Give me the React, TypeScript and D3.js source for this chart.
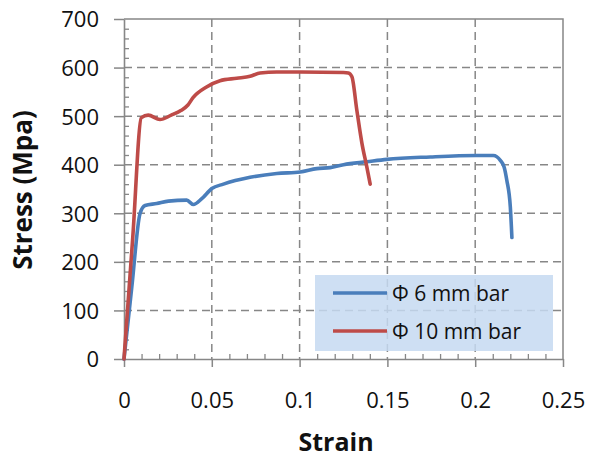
import React, { useEffect, useRef } from 'react';
import * as d3 from 'd3';

// strain / stress
const BAR6_STRAIN = [0, 0.0045, 0.0091, 0.012, 0.0186, 0.0253, 0.0357, 0.0395, 0.0443, 0.05, 0.0566, 0.0718, 0.087, 0.1003, 0.1098, 0.1174, 0.125, 0.1383, 0.1497, 0.1744, 0.2006, 0.2103, 0.2143, 0.2165, 0.218, 0.22, 0.2209];
const BAR6_STRESS = [0, 150, 299, 316, 320, 325, 327, 318, 330, 351, 360, 374, 382, 385, 392, 394, 400, 406, 411, 416, 419, 419, 409, 395, 368, 313, 250];

const BAR10_STRAIN = [0, 0.005, 0.0099, 0.0138, 0.0205, 0.0269, 0.0326, 0.0364, 0.0393, 0.047, 0.0547, 0.0642, 0.0718, 0.0775, 0.087, 0.1003, 0.125, 0.1278, 0.1298, 0.1326, 0.1355, 0.1383, 0.1402];
const BAR10_STRESS = [0, 251, 497, 502, 493, 502, 512, 523, 538, 560, 573, 578, 582, 589, 591, 591, 590, 589, 581, 512, 444, 395, 360];

const X_TICKS = [0, 0.05, 0.1, 0.15, 0.2, 0.25];
const X_LABELS = ['0', '0.05', '0.1', '0.15', '0.2', '0.25'];
const Y_TICKS = [0, 100, 200, 300, 400, 500, 600, 700];

const SERIES = [
  { name: 'Φ 6 mm bar', strain: BAR6_STRAIN, stress: BAR6_STRESS, color: '#4a7ebb' },
  { name: 'Φ 10 mm bar', strain: BAR10_STRAIN, stress: BAR10_STRESS, color: '#be4b48' }
];

const AXIS_GRAY = '#878787';
const FONT = '"Open Sans", sans-serif';

export default function App() {
  const ref = useRef<SVGSVGElement>(null);

  useEffect(() => {
    const svg = d3.select(ref.current);
    svg.selectAll('*').remove();

    const left = 124, right = 563, top = 19, bottom = 359;

    const x = d3.scaleLinear().domain([0, 0.25]).range([left, right]);
    const y = d3.scaleLinear().domain([0, 700]).range([bottom, top]);

    // dashed grid
    svg.append('g')
      .selectAll('line')
      .data(X_TICKS.slice(1, -1))
      .enter()
      .append('line')
      .attr('x1', d => x(d)).attr('x2', d => x(d))
      .attr('y1', top).attr('y2', bottom)
      .attr('stroke', AXIS_GRAY)
      .attr('stroke-width', 1.5)
      .attr('stroke-dasharray', '8,5');
    svg.append('g')
      .selectAll('line')
      .data(Y_TICKS.slice(1, -1))
      .enter()
      .append('line')
      .attr('x1', left).attr('x2', right)
      .attr('y1', d => y(d)).attr('y2', d => y(d))
      .attr('stroke', AXIS_GRAY)
      .attr('stroke-width', 1.5)
      .attr('stroke-dasharray', '8,5');

    // plot border on top / right
    svg.append('path')
      .attr('d', `M${left},${top}H${right}V${bottom}`)
      .attr('fill', 'none')
      .attr('stroke', AXIS_GRAY)
      .attr('stroke-width', 1.5);

    // minor ticks, inside
    const xMinor = d3.range(1, 25).map(i => i / 100).filter(v => Math.round(v * 100) % 5 !== 0);
    const yMinor = d3.range(20, 700, 20).filter(v => v % 100 !== 0);
    svg.append('g')
      .attr('transform', `translate(0,${bottom})`)
      .call(d3.axisTop(x).tickValues(xMinor).tickSize(5).tickFormat(() => ''))
      .call(g => g.select('.domain').remove())
      .selectAll('line').attr('stroke', AXIS_GRAY).attr('stroke-width', 1.3);
    svg.append('g')
      .attr('transform', `translate(${left},0)`)
      .call(d3.axisRight(y).tickValues(yMinor).tickSize(5).tickFormat(() => ''))
      .call(g => g.select('.domain').remove())
      .selectAll('line').attr('stroke', AXIS_GRAY).attr('stroke-width', 1.3);

    // major axes
    const xAxis = svg.append('g')
      .attr('transform', `translate(0,${bottom})`)
      .call(d3.axisBottom(x).tickValues(X_TICKS).tickSize(8).tickSizeOuter(0)
        .tickFormat((d, i) => X_LABELS[i]));
    xAxis.select('.domain').attr('stroke', AXIS_GRAY).attr('stroke-width', 1.6);
    xAxis.selectAll('line').attr('stroke', AXIS_GRAY).attr('stroke-width', 1.5);
    xAxis.selectAll('text')
      .attr('y', 49).attr('dy', null)
      .style('font-family', FONT).style('font-size', '22px').attr('fill', '#111');

    const yAxis = svg.append('g')
      .attr('transform', `translate(${left},0)`)
      .call(d3.axisLeft(y).tickValues(Y_TICKS).tickSize(10).tickSizeOuter(0).tickPadding(15));
    yAxis.select('.domain').attr('stroke', AXIS_GRAY).attr('stroke-width', 1.6);
    yAxis.selectAll('line').attr('stroke', AXIS_GRAY).attr('stroke-width', 1.5);
    yAxis.selectAll('text')
      .attr('dy', '0.36em')
      .style('font-family', FONT).style('font-size', '22px').attr('fill', '#111');

    // curves
    const line = d3.line<[number, number]>()
      .x(d => x(d[0]))
      .y(d => y(d[1]))
      .curve(d3.curveMonotoneX);
    SERIES.forEach(s => {
      svg.append('path')
        .datum(s.strain.map((v, i) => [v, s.stress[i]] as [number, number]))
        .attr('d', line)
        .attr('fill', 'none')
        .attr('stroke', s.color)
        .attr('stroke-width', 3.6)
        .attr('stroke-linejoin', 'round')
        .attr('stroke-linecap', 'round');
    });

    // legend
    const legend = svg.append('g').attr('transform', 'translate(315,275)');
    legend.append('rect')
      .attr('width', 238).attr('height', 76)
      .attr('fill', '#c6d9f1').attr('fill-opacity', 0.85);
    SERIES.forEach((s, i) => {
      const ly = 18 + i * 38;
      legend.append('line')
        .attr('x1', 18).attr('x2', 72)
        .attr('y1', ly).attr('y2', ly)
        .attr('stroke', s.color).attr('stroke-width', 3.6);
      legend.append('text')
        .attr('x', 77).attr('y', ly + 7.5)
        .style('font-family', FONT).style('font-size', '21px')
        .attr('fill', '#111')
        .text(s.name);
    });

    // axis titles
    svg.append('text')
      .attr('x', 336).attr('y', 451)
      .attr('text-anchor', 'middle')
      .style('font-family', FONT).style('font-size', '25px').style('font-weight', 'bold')
      .attr('fill', '#111')
      .text('Strain');
    svg.append('text')
      .attr('transform', 'translate(32,190) rotate(-90)')
      .attr('text-anchor', 'middle')
      .style('font-family', FONT).style('font-size', '26px').style('font-weight', 'bold')
      .attr('fill', '#111')
      .text('Stress (Mpa)');
  }, []);

  return (
    <div style={{ position: 'absolute', left: 0, top: 0 }}>
      <svg ref={ref} width={596} height={459} style={{ display: 'block', background: '#fff' }} />
    </div>
  );
}
